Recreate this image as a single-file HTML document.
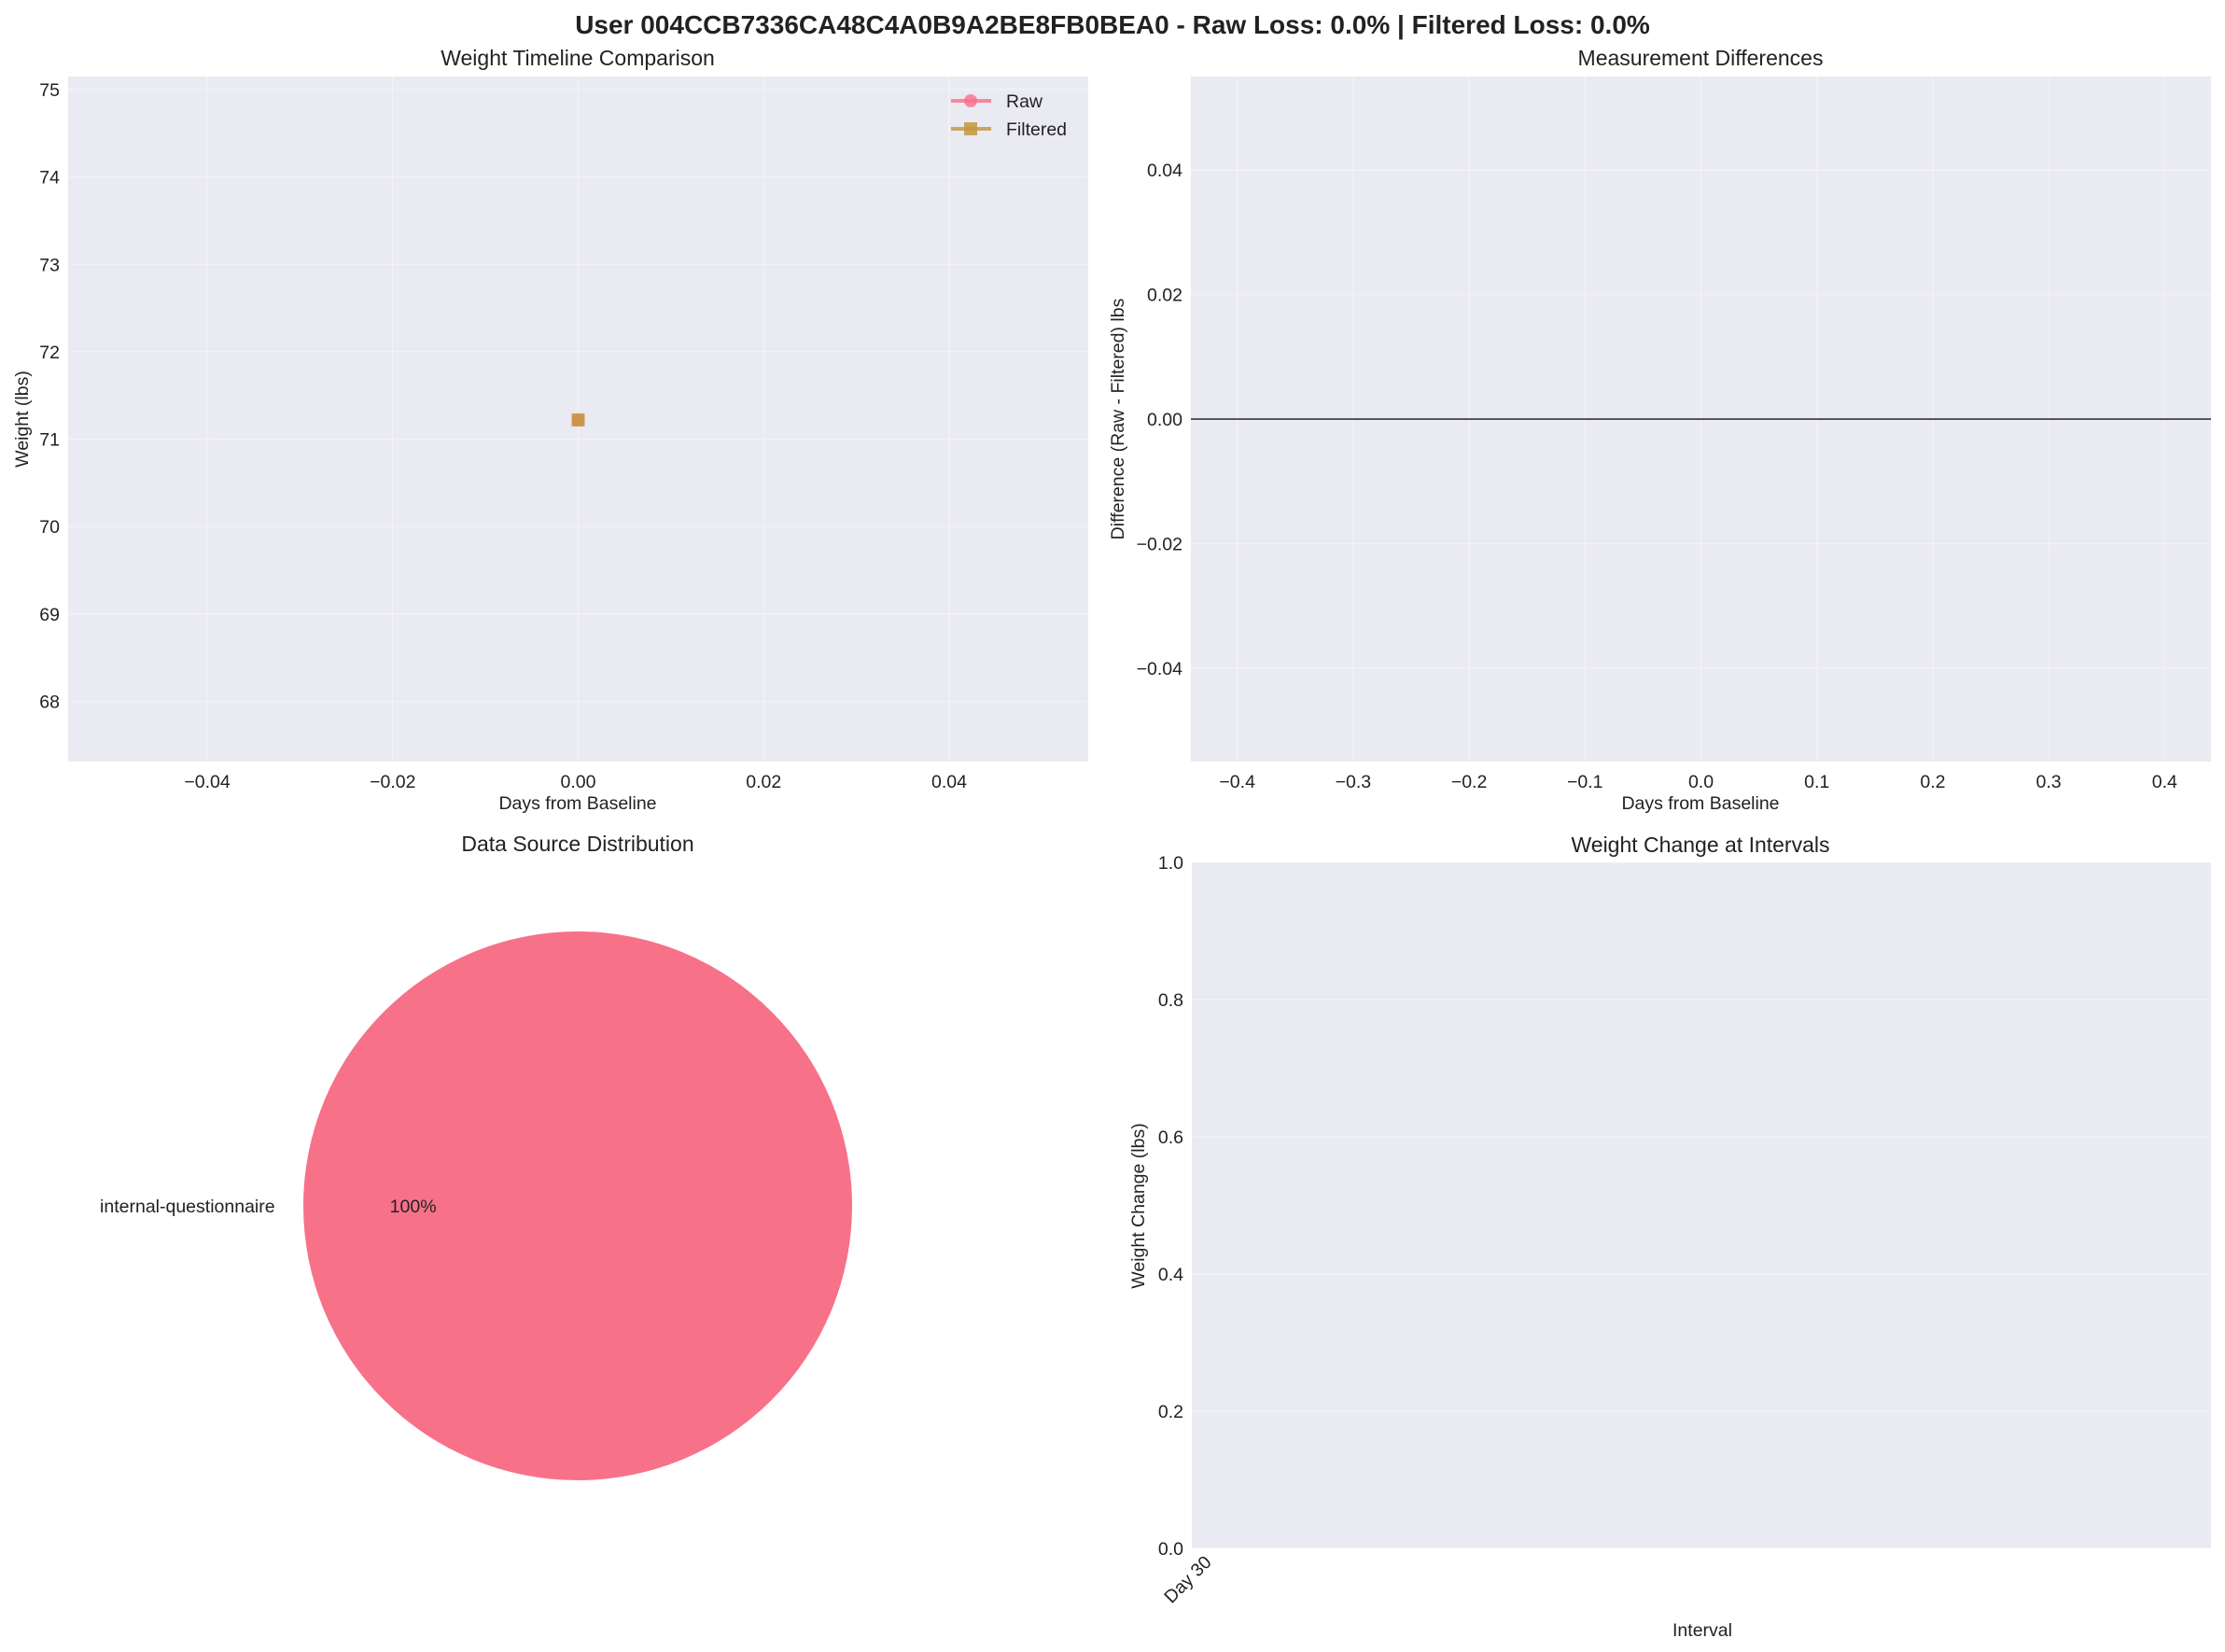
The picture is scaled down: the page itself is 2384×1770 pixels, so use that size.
<!DOCTYPE html>
<html><head><meta charset="utf-8">
<style>
html,body{margin:0;padding:0;background:#fff;}
svg{display:block;font-family:"Liberation Sans",Arial,sans-serif;}
</style></head>
<body>
<svg id="fig" width="2384" height="1770" viewBox="0 0 2384 1770" xmlns="http://www.w3.org/2000/svg">
<text x="1192" y="36" text-anchor="middle" font-size="28" font-weight="bold" fill="#222">User 004CCB7336CA48C4A0B9A2BE8FB0BEA0 - Raw Loss: 0.0% | Filtered Loss: 0.0%</text>
<g id="p1"></g>
<g id="p2"></g>
<g id="p3"></g>
<g id="p4"></g>
</svg>
<script>
// Panel 1 data
const timelineDays = [0];
const rawWeights = [71.22];
const filteredWeights = [71.22];
const p1XTicks = [-0.04, -0.02, 0.00, 0.02, 0.04];
const p1YTicks = [68, 69, 70, 71, 72, 73, 74, 75];
// Panel 2 data
const diffDays = [];
const diffValues = [];
const p2XTicks = [-0.4, -0.3, -0.2, -0.1, 0.0, 0.1, 0.2, 0.3, 0.4];
const p2YTicks = [-0.04, -0.02, 0.00, 0.02, 0.04];
// Panel 3 data
const sourceLabels = ["internal-questionnaire"];
const sourceCounts = [1];
// Panel 4 data
const intervalLabels = ["Day 30"];
const intervalChanges = [];
const p4YTicks = [0.0, 0.2, 0.4, 0.6, 0.8, 1.0];

const NS = "http://www.w3.org/2000/svg";
const FS = 19.5;
function mk(parent, tag, attrs, text){
  const e = document.createElementNS(NS, tag);
  for (const k in attrs) e.setAttribute(k, attrs[k]);
  if (text !== undefined) e.textContent = text;
  parent.appendChild(e);
  return e;
}
function scale(d0,d1,r0,r1){ return v => r0 + (v-d0)/(d1-d0)*(r1-r0); }

function axesBase(g, box, xs, ys, xt, yt, xfmt, yfmt, xgrid, ygrid){
  const bg = mk(g,'rect',{x:box.l,y:box.t,width:box.r-box.l,height:box.b-box.t,fill:'#EAEAF2'});
  
  
  if (ygrid) yt.forEach(v=>{
    const ln = mk(g,'line',{x1:box.l,x2:box.r,y1:ys(v),y2:ys(v),stroke:'#fff','stroke-width':1.5,opacity:0.35});
    
    
    const t = mk(g,'text',{x:box.l-9,y:ys(v)+7,'text-anchor':'end','font-size':FS,fill:'#222'}, yfmt(v));
    
    
  });
  if (xgrid) xt.forEach(v=>{
    const ln = mk(g,'line',{y1:box.t,y2:box.b,x1:xs(v),x2:xs(v),stroke:'#fff','stroke-width':1.5,opacity:0.35});
    
    
    const t = mk(g,'text',{x:xs(v),y:box.b+28,'text-anchor':'middle','font-size':FS,fill:'#222'}, xfmt(v));
    
    
  });
}
const minus = s => s.replace('-', '\u2212');

// Panel 1
(function(){
  const g = document.getElementById('p1');
  const box = {l:73,r:1166,t:82,b:816};
  const xs = scale(-0.055,0.055,box.l,box.r);
  const ys = scale(75.15,67.31,box.t,box.b);
  axesBase(g, box, xs, ys, p1XTicks, p1YTicks, v=>minus(v.toFixed(2)), v=>String(v), true, true);
  let t = mk(g,'text',{x:619,y:70,'text-anchor':'middle','font-size':23,fill:'#222'},'Weight Timeline Comparison');
   
  t = mk(g,'text',{x:619,y:867,'text-anchor':'middle','font-size':FS,fill:'#222'},'Days from Baseline');
   
  t = mk(g,'text',{x:0,y:0,'text-anchor':'middle','font-size':FS,fill:'#222',transform:'translate(30,449) rotate(-90)'},'Weight (lbs)');
   
  timelineDays.forEach((d,i)=>{
    const c = mk(g,'circle',{cx:xs(d),cy:ys(rawWeights[i]),r:7,fill:'#f77189',opacity:0.8});
     
  });
  timelineDays.forEach((d,i)=>{
    const r = mk(g,'rect',{x:xs(d)-7,y:ys(filteredWeights[i])-7,width:14,height:14,fill:'#c4963e',opacity:0.85});
     
  });
  const lg = mk(g,'g',{});
   
  mk(lg,'line',{x1:1019,x2:1062,y1:108,y2:108,stroke:'#f77189','stroke-width':4,opacity:0.8});
  mk(lg,'circle',{cx:1040,cy:108,r:7,fill:'#f77189',opacity:0.8});
  t = mk(lg,'text',{x:1078,y:115,'font-size':FS,fill:'#222'},'Raw');
   
  mk(lg,'line',{x1:1019,x2:1062,y1:138,y2:138,stroke:'#c4963e','stroke-width':4,opacity:0.8});
  mk(lg,'rect',{x:1033,y:131,width:14,height:14,fill:'#c4963e',opacity:0.85});
  t = mk(lg,'text',{x:1078,y:145,'font-size':FS,fill:'#222'},'Filtered');
   
})();

// Panel 2
(function(){
  const g = document.getElementById('p2');
  const box = {l:1276,r:2369,t:82,b:816};
  const xs = scale(-0.44,0.44,box.l,box.r);
  const ys = scale(0.055,-0.055,box.t,box.b);
  axesBase(g, box, xs, ys, p2XTicks, p2YTicks, v=>minus(v.toFixed(1)), v=>minus(v.toFixed(2)), true, true);
  let t = mk(g,'text',{x:1822,y:70,'text-anchor':'middle','font-size':23,fill:'#222'},'Measurement Differences');
   
  t = mk(g,'text',{x:1822,y:867,'text-anchor':'middle','font-size':FS,fill:'#222'},'Days from Baseline');
   
  t = mk(g,'text',{x:0,y:0,'text-anchor':'middle','font-size':FS,fill:'#222',transform:'translate(1204,449) rotate(-90)'},'Difference (Raw - Filtered) lbs');
   
  const zl = mk(g,'line',{x1:box.l,x2:box.r,y1:ys(0),y2:ys(0),stroke:'#000','stroke-width':1.2});
   
  diffDays.forEach((d,i)=>{
    const c = mk(g,'circle',{cx:xs(d),cy:ys(diffValues[i]),r:6,fill:'#f77189'});
     
  });
})();

// Panel 3
(function(){
  const g = document.getElementById('p3');
  let t = mk(g,'text',{x:619,y:912,'text-anchor':'middle','font-size':23,fill:'#222'},'Data Source Distribution');
   
  const cx=619, cy=1292, R=294;
  const colors=['#f77189','#c4963e','#50b131','#3ba3ec'];
  const total = sourceCounts.reduce((a,b)=>a+b,0);
  let a0 = 0;
  sourceCounts.forEach((c,i)=>{
    const frac = c/total;
    let el;
    if (frac >= 0.9999){
      el = mk(g,'circle',{cx:cx,cy:cy,r:R,fill:colors[i%4]});
    } else {
      const a1 = a0 + frac*2*Math.PI;
      const x0=cx+R*Math.cos(a0), y0=cy-R*Math.sin(a0), x1=cx+R*Math.cos(a1), y1=cy-R*Math.sin(a1);
      el = mk(g,'path',{d:`M${cx},${cy} L${x0},${y0} A${R},${R} 0 ${frac>0.5?1:0} 0 ${x1},${y1} Z`,fill:colors[i%4]});
    }
     
    const mid = a0 + frac*Math.PI;
    const la = frac>=0.9999 ? Math.PI : mid;
    const LX = cx + 1.1*R*Math.cos(la), LY = cy - 1.1*R*Math.sin(la);
    const PX = cx + 0.6*R*Math.cos(la), PY = cy - 0.6*R*Math.sin(la);
    let l = mk(g,'text',{x:LX-1,y:LY+7,'text-anchor':Math.cos(la)<0?'end':'start','font-size':FS,fill:'#222'},sourceLabels[i]);
     
    l = mk(g,'text',{x:PX,y:PY+7,'text-anchor':'middle','font-size':FS,fill:'#222'},Math.round(frac*100)+'%');
     
    a0 += frac*2*Math.PI;
  });
})();

// Panel 4
(function(){
  const g = document.getElementById('p4');
  const box = {l:1277,r:2369,t:924,b:1659};
  const ys = scale(0,1,box.b,box.t);
  axesBase(g, box, null, ys, [], p4YTicks, null, v=>v.toFixed(1), false, true);
  let t = mk(g,'text',{x:1822,y:913,'text-anchor':'middle','font-size':23,fill:'#222'},'Weight Change at Intervals');
   
  t = mk(g,'text',{x:1824,y:1753,'text-anchor':'middle','font-size':FS,fill:'#222'},'Interval');
   
  t = mk(g,'text',{x:0,y:0,'text-anchor':'middle','font-size':FS,fill:'#222',transform:'translate(1226,1292) rotate(-90)'},'Weight Change (lbs)');
   
  const n = intervalLabels.length;
  const bw = (box.r-box.l)/Math.max(n,1);
  intervalLabels.forEach((lab,i)=>{
    const x = box.l + i*bw;
    const tl = mk(g,'text',{x:0,y:0,'text-anchor':'end','font-size':FS,fill:'#222',transform:`translate(${x+22},${box.b+16}) rotate(-45)`},lab);
     
    if (intervalChanges[i] !== undefined){
      const v = intervalChanges[i];
      const r = mk(g,'rect',{x:x+bw*0.1,width:bw*0.8,y:Math.min(ys(v),ys(0)),height:Math.abs(ys(v)-ys(0)),fill:'#f77189'});
       
    }
  });
})();
</script>
</body></html>
